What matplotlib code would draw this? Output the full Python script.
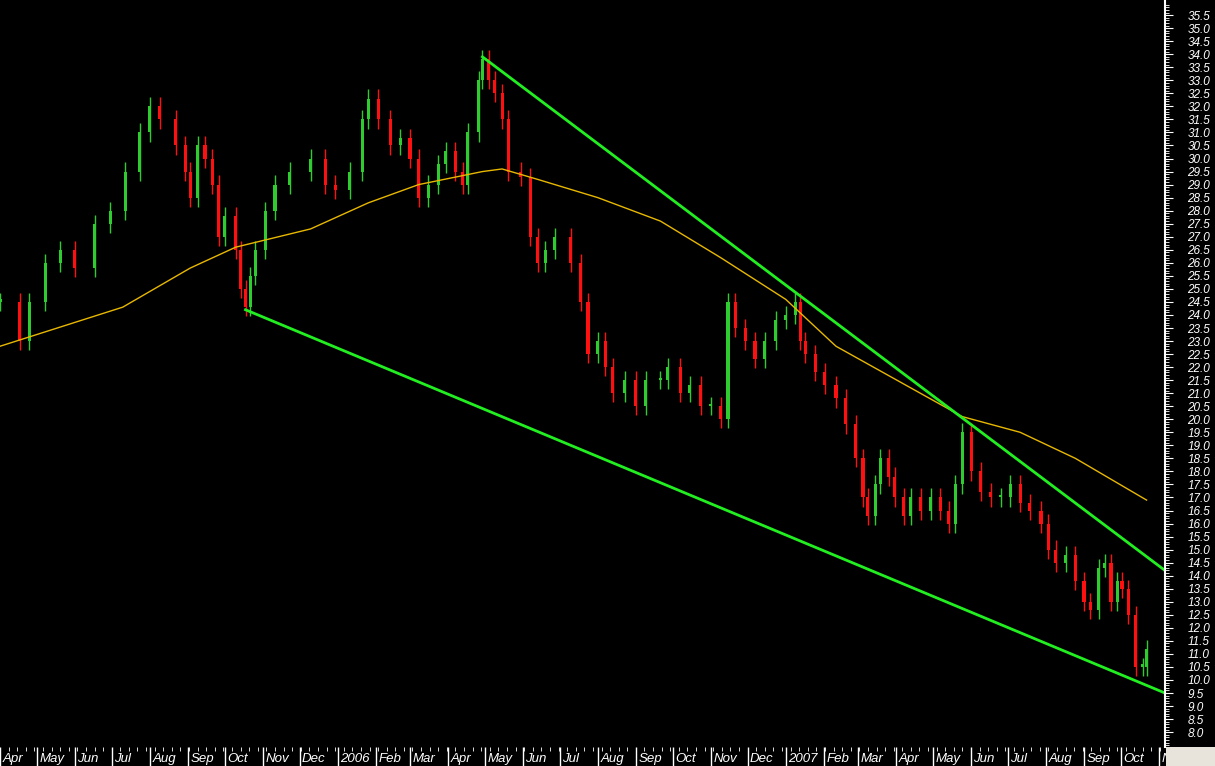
import datetime as dt
import matplotlib
matplotlib.use('Agg')
import matplotlib.pyplot as plt
import matplotlib.transforms as mtransforms
import numpy as np

START = dt.date(2005, 4, 1)

# days since 1 Apr 2005, close prices
day = [0, 16, 24, 37, 49, 61, 77, 90, 102, 114, 122, 130, 143, 151, 155, 161, 167, 173, 178, 183,
       192, 196, 200, 204, 208, 216, 224, 236, 253, 265, 273, 285, 295, 300, 308, 318, 326, 334, 341, 349,
       357, 363, 371, 377, 381, 390, 393, 398, 403, 409, 414, 424, 432, 438, 444, 452, 465, 473, 479, 487,
       493, 499, 509, 518, 526, 538, 544, 554, 562, 571, 579, 587, 593, 599, 607, 615, 623, 632, 640, 648,
       652, 656, 664, 672, 681, 689, 697, 703, 707, 713, 717, 724, 729, 736, 742, 750, 758, 766, 773, 778,
       784, 791, 799, 807, 815, 823, 831, 839, 848, 854, 860, 868, 876, 883, 888, 895, 900, 905, 910, 914,
       919, 925, 931, 934]
close = [24.5, 23.0, 24.5, 26.0, 26.5, 25.8, 27.5, 28.0, 29.5, 31.0, 32.0, 31.5, 30.5, 29.5, 28.5, 30.5, 30.0, 29.0, 27.0, 27.8,
         26.5, 25.0, 24.3, 25.5, 26.5, 28.0, 29.0, 29.5, 30.0, 29.0, 28.8, 29.5, 31.5, 32.3, 31.5, 30.5, 30.8, 30.0, 28.5, 29.0,
         29.8, 30.3, 29.5, 29.0, 31.0, 33.0, 33.8, 33.0, 32.5, 31.5, 29.5, 29.3, 27.0, 26.0, 26.5, 27.0, 26.0, 24.5, 22.5, 23.0,
         22.0, 21.0, 21.5, 20.5, 21.5, 21.5, 22.0, 21.0, 21.3, 20.5, 20.5, 20.0, 24.5, 23.5, 23.0, 22.3, 23.0, 23.8, 24.0, 24.5,
         23.0, 22.5, 21.8, 21.3, 20.8, 19.8, 18.5, 17.0, 16.3, 17.5, 18.5, 17.8, 17.0, 16.3, 17.0, 16.5, 17.0, 16.5, 16.0, 17.5,
         19.5, 18.0, 17.2, 17.0, 17.0, 17.5, 16.8, 16.5, 16.0, 15.0, 14.5, 14.8, 13.8, 13.0, 12.7, 14.3, 14.5, 13.0, 13.8, 13.5,
         12.5, 10.5, 10.5, 11.2]

# 200-day moving average
ma_day = [0, 100, 155, 192, 253, 300, 341, 393, 409, 438, 487, 538, 587, 640, 681, 742, 784, 831, 876, 905, 934]
ma_val = [22.8, 24.3, 25.8, 26.6, 27.3, 28.3, 29.0, 29.5, 29.6, 29.2, 28.5, 27.6, 26.2, 24.6, 22.8, 21.2, 20.1,
          19.5, 18.5, 17.7, 16.9]

# trend lines (start/end day, price)
upper_day, upper_val = [393, 949], [33.9, 14.2]
lower_day, lower_val = [200, 949], [24.2, 9.5]

W, H = 1215, 766
fig = plt.figure(figsize=(W / 100, H / 100), dpi=100, facecolor='black')
ax = fig.add_axes([0, 19 / H, 1165 / W, 1 - 19 / H], facecolor='black')

opens = [close[0]] + close[:-1]
for i in range(len(day)):
    o, c = opens[i], close[i]
    col = '#2ecc2e' if c >= o else '#ff1010'
    lo, hi = min(o, c), max(o, c)
    ax.vlines(day[i], lo - 0.35, hi + 0.35, color=col, linewidth=1)
    ax.bar(day[i], max(hi - lo, 0.1), bottom=lo, width=2.5, color=col, linewidth=0)

ax.plot(ma_day, ma_val, color='#e8b800', linewidth=1)
ax.plot(upper_day, upper_val, color='#22ee22', linewidth=2)
ax.plot(lower_day, lower_val, color='#22ee22', linewidth=2)

ax.set_xlim(0, 949)
ax.set_ylim(7.43, 36.08)

# right price axis
ax.yaxis.tick_right()
ax.set_yticks(np.arange(8.0, 35.6, 0.5))
ax.set_yticks(np.arange(7.5, 36.0, 0.1), minor=True)
ax.set_yticklabels(['%.1f' % v for v in np.arange(8.0, 35.6, 0.5)], fontstyle='italic', fontsize=8.5,
                   family='Liberation Sans')
ax.tick_params(axis='y', which='major', colors='white', length=6, pad=10)
ax.tick_params(axis='y', which='minor', colors='white', length=3)
for s in ['top', 'left', 'bottom']:
    ax.spines[s].set_visible(False)
ax.spines['right'].set_color('white')
ax.spines['right'].set_linewidth(1.5)

# month axis
months = []
y, m = 2005, 4
while (y, m) <= (2007, 11):
    months.append(dt.date(y, m, 1))
    m += 1
    if m > 12:
        y, m = y + 1, 1
mdays = [(d - START).days for d in months]
ax.set_xticks(mdays)
ax.set_xticklabels([])
ax.set_xticks(np.arange(0, 949, 7), minor=True)
ax.tick_params(axis='x', which='major', colors='white', length=19, direction='out', width=1)
ax.tick_params(axis='x', which='minor', colors='white', length=3, direction='out')
trans = mtransforms.blended_transform_factory(ax.transData, ax.transAxes)
for d, md in zip(months, mdays):
    if d.month == 1:
        lab = str(d.year)
    else:
        lab = d.strftime('%b')
    ax.text(md + 2, -0.016, lab, transform=trans, color='white', fontstyle='italic', family='Liberation Sans',
            fontsize=9.5, ha='left', va='center', clip_on=False)

fig.patches.append(plt.Rectangle((1166 / W, 0), 1, 19 / H, transform=fig.transFigure,
                                 facecolor='#e8e4dc', edgecolor='none', zorder=5))

fig.savefig('out.png', dpi=100, facecolor='black')
